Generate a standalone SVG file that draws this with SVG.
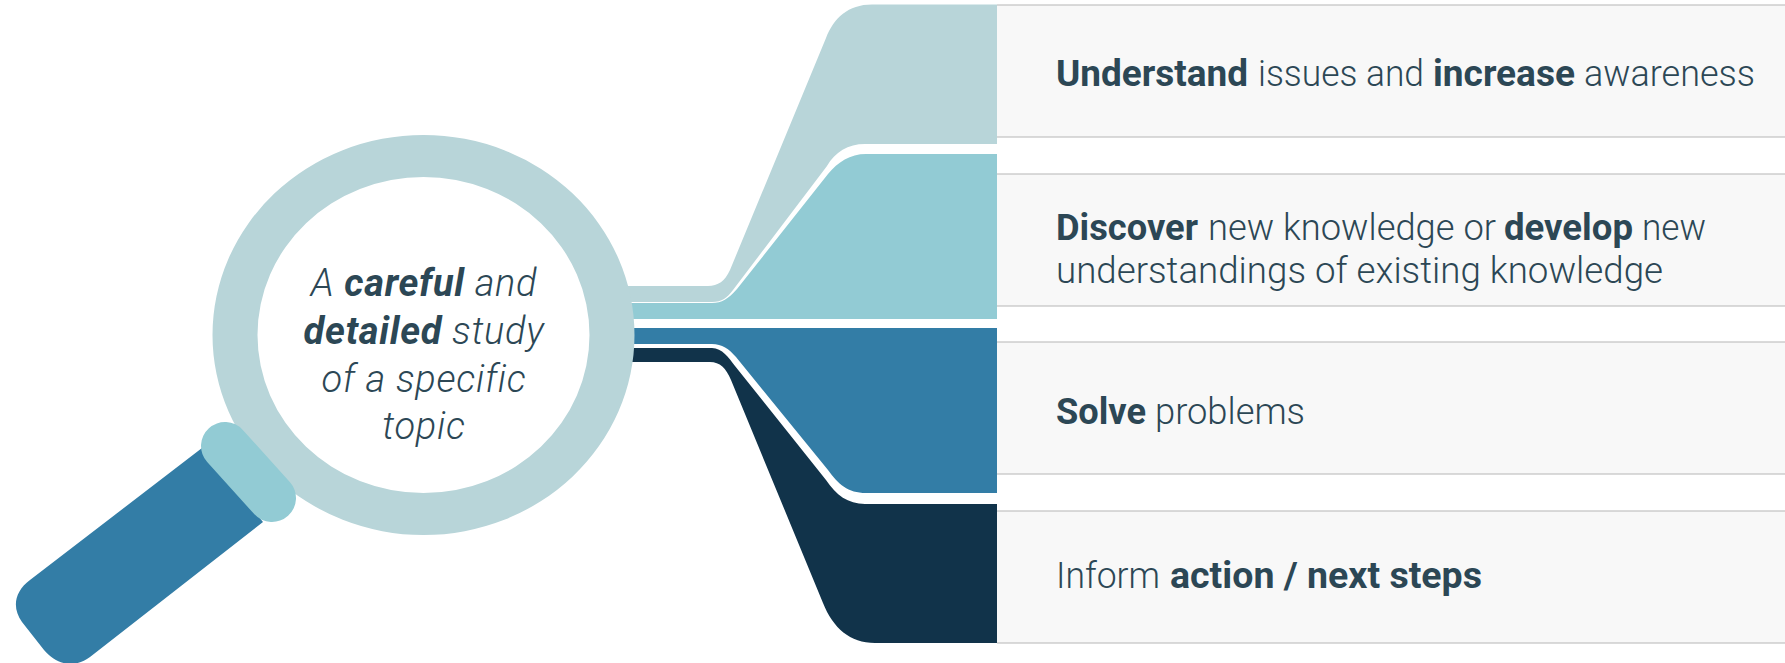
<svg xmlns="http://www.w3.org/2000/svg" width="1785" height="663" viewBox="0 0 1785 663">
<style>
.row{fill:#f8f8f8}
.rule{stroke:#b5b5b5;stroke-width:1.2;fill:none}
.edge{stroke:#b5b5b5;stroke-width:.8;fill:none}
text{font-family:"Roboto","Liberation Sans",sans-serif;fill:#2c4755;font-size:37px;font-weight:300;white-space:pre}
.b{font-weight:700}
.c{font-style:italic;font-size:38px;letter-spacing:.7px}
</style>
<rect width="1785" height="663" fill="#fff"/>
<g id="connectors">
<path id="band1" fill="#b8d5d9" d="M997,4.500H872C848,4.500 834,18 826,38L730,270C725,281 718,286 708,286H628V302H712C722,302 727,298 733,290L827,166C835,152 848,144 865,144H997Z"/>
<path id="band2" fill="#92cbd4" d="M997,154H866C850,154 838,162 828,174L737,289C728,299 722,303 712,303H630V319H997Z"/>
<path id="band3" fill="#337da6" d="M997,328H630V344H712C722,344 729,349 736,357L828,470C838,484 848,493 866,493H997Z"/>
<path id="band4" fill="#11334a" d="M997,504H865C848,504 836,495 826,480L735,366C729,358 722,348 712,348H630V362H710C720,362 726,368 731,380L823,603C833,628 850,643 875,643H997Z"/>
</g>
<g id="row1"><rect class="row" x="997" y="5" width="788" height="132"/><path class="rule" d="M997,5H1785M997,137H1785"/>
<text y="86"><tspan class="b" x="1056" textLength="192" lengthAdjust="spacingAndGlyphs">Understand</tspan> <tspan x="1258" textLength="166" lengthAdjust="spacingAndGlyphs">issues and</tspan> <tspan class="b" x="1433" textLength="142" lengthAdjust="spacingAndGlyphs">increase</tspan> <tspan x="1584" textLength="171" lengthAdjust="spacingAndGlyphs">awareness</tspan></text></g>
<g id="row2"><rect class="row" x="997" y="174" width="788" height="132"/><path class="rule" d="M997,174H1785M997,306H1785"/>
<text y="239.500"><tspan class="b" x="1056" textLength="142" lengthAdjust="spacingAndGlyphs">Discover</tspan> <tspan x="1208" textLength="288" lengthAdjust="spacingAndGlyphs">new knowledge or</tspan> <tspan class="b" x="1504" textLength="129" lengthAdjust="spacingAndGlyphs">develop</tspan> <tspan x="1642" textLength="64" lengthAdjust="spacingAndGlyphs">new</tspan></text>
<text x="1056" y="283" textLength="607" lengthAdjust="spacingAndGlyphs">understandings of existing knowledge</text></g>
<g id="row3"><rect class="row" x="997" y="342" width="788" height="132"/><path class="rule" d="M997,342H1785M997,474H1785"/>
<text y="423.500"><tspan class="b" x="1056" textLength="90" lengthAdjust="spacingAndGlyphs">Solve</tspan> <tspan x="1155" textLength="150" lengthAdjust="spacingAndGlyphs">problems</tspan></text></g>
<g id="row4"><rect class="row" x="997" y="511" width="788" height="132"/><path class="rule" d="M997,511H1785M997,643H1785"/>
<text y="588"><tspan x="1056" textLength="104" lengthAdjust="spacingAndGlyphs">Inform</tspan> <tspan class="b" x="1170" textLength="312" lengthAdjust="spacingAndGlyphs">action / next steps</tspan></text></g>
<g id="magnifier">
<path fill="#337da6" d="M202,448L30,580C14,592 12,608 22,622L44,650C58,666 75,668 90,657L263,522Z"/>
<path fill="#b8d5d9" fill-rule="evenodd" d="M212.500,335a211,200 0 1,0 422,0a211,200 0 1,0 -422,0ZM257.500,335a166,158 0 1,0 332,0a166,158 0 1,0 -332,0Z"/>
<path d="M225,446L272,498" stroke="#92cbd4" stroke-width="48" stroke-linecap="round" fill="none"/>
<text class="c" text-anchor="middle" x="424" y="296">A <tspan class="b">careful</tspan> and</text>
<text class="c" text-anchor="middle" x="424" y="344"><tspan class="b">detailed</tspan> study</text>
<text class="c" text-anchor="middle" x="424" y="392">of a specific</text>
<text class="c" text-anchor="middle" x="424" y="439">topic</text>
</g>
</svg>
